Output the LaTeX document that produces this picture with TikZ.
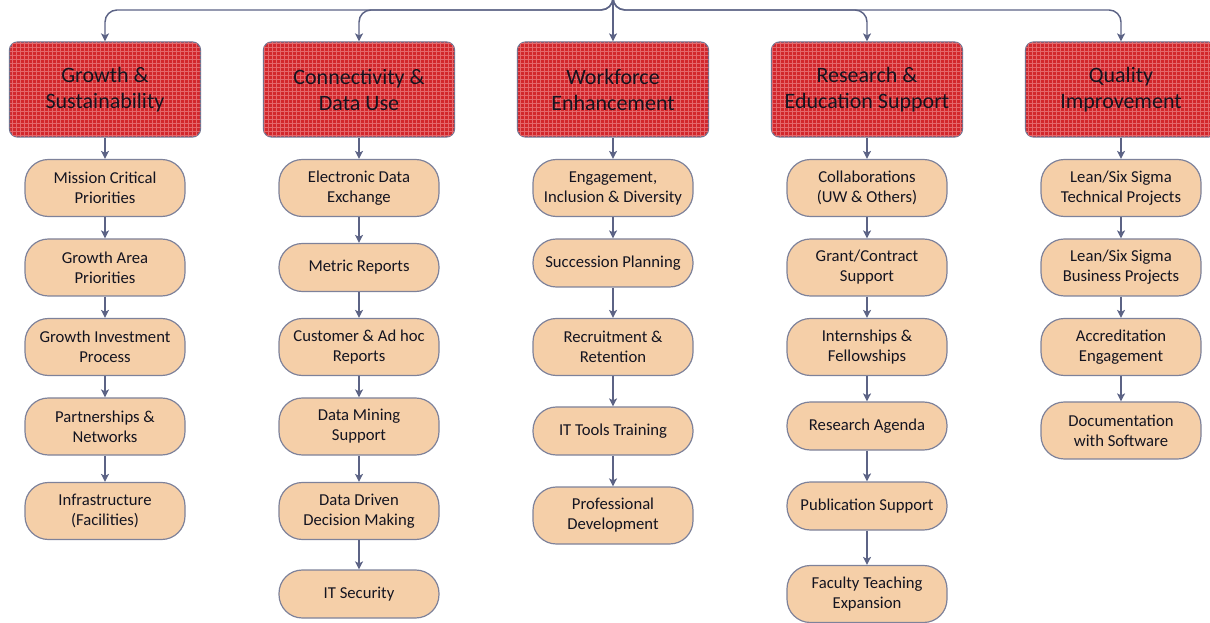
\documentclass[tikz,border=0pt]{standalone}
\usepackage{fontspec}
\setmainfont{Carlito}
\usetikzlibrary{arrows.meta,patterns}
\definecolor{hdrfill}{HTML}{D2272C}
\definecolor{hdrgrid}{HTML}{E4676B}
\definecolor{hdrline}{HTML}{6E7390}
\definecolor{subfill}{HTML}{F5CFA8}
\definecolor{subline}{HTML}{7E829A}
\definecolor{conncol}{HTML}{5C6385}
\definecolor{txt}{HTML}{141420}
\tikzset{
  hdr/.style={rectangle, rounded corners=6pt, draw=hdrline, line width=0.9pt,
    fill=hdrfill, postaction={pattern=grid, pattern color=hdrgrid},
    minimum width=143.25pt, minimum height=71.25pt, align=center, text=txt,
    font=\fontsize{16.5}{19.5}\selectfont, inner sep=0pt},
  subbox/.style={rectangle, rounded corners=17.5pt, draw=subline, line width=0.9pt,
    fill=subfill, minimum width=120pt, minimum height=42.75pt, align=center, text=txt,
    font=\fontsize{12.5}{15}\selectfont, inner sep=0pt},
  subone/.style={subbox, minimum height=36pt},
  conn/.style={draw=conncol, line width=1.1pt, -{Stealth[length=6pt,width=6pt,inset=1.5pt]}},
  topline/.style={draw=conncol, line width=1.1pt, rounded corners=9pt},
}
\begin{document}
\begin{tikzpicture}[x=0.75pt,y=-0.75pt]
\useasboundingbox (0,0) rectangle (1210,623);
% headers
\node[hdr] (h1) at (105,89.5) {Growth \&\\Sustainability};
\node[hdr] (h2) at (359,89.5) {Connectivity \&\\Data Use};
\node[hdr] (h3) at (613,89.5) {Workforce\\Enhancement};
\node[hdr] (h4) at (867,89.5) {Research \&\\Education Support};
\node[hdr] (h5) at (1121,89.5) {Quality\\Improvement};
% top connectors
\coordinate (top) at (613,0);
\coordinate (lvl) at (0,10);
\draw[topline, conn] (top) |- (h1.north |- lvl) -- (h1.north);
\draw[topline, conn] (top) |- (h2.north |- lvl) -- (h2.north);
\draw[conn] (top) -- (h3.north);
\draw[topline, conn] (top) |- (h4.north |- lvl) -- (h4.north);
\draw[topline, conn] (top) |- (h5.north |- lvl) -- (h5.north);
% column 1
\node[subbox] (a1) at (105,188) {Mission Critical\\Priorities};
\node[subbox] (a2) at (105,267.5) {Growth Area\\Priorities};
\node[subbox] (a3) at (105,347) {Growth Investment\\Process};
\node[subbox] (a4) at (105,426.5) {Partnerships \&\\Networks};
\node[subbox] (a5) at (105,511) {Infrastructure\\(Facilities)};
% column 2
\node[subbox] (b1) at (359,188) {Electronic Data\\Exchange};
\node[subone] (b2) at (359,267.5) {Metric Reports};
\node[subbox] (b3) at (359,347) {Customer \& Ad hoc\\Reports};
\node[subbox] (b4) at (359,426.5) {Data Mining\\Support};
\node[subbox] (b5) at (359,511) {Data Driven\\Decision Making};
\node[subone] (b6) at (359,594) {IT Security};
% column 3
\node[subbox] (c1) at (613,188) {Engagement,\\Inclusion \& Diversity};
\node[subone] (c2) at (613,263) {Succession Planning};
\node[subbox] (c3) at (613,347) {Recruitment \&\\Retention};
\node[subone] (c4) at (613,431) {IT Tools Training};
\node[subbox] (c5) at (613,515.5) {Professional\\Development};
% column 4
\node[subbox] (d1) at (867,188) {Collaborations\\(UW \& Others)};
\node[subbox] (d2) at (867,267.5) {Grant/Contract\\Support};
\node[subbox] (d3) at (867,347) {Internships \&\\Fellowships};
\node[subone] (d4) at (867,426) {Research Agenda};
\node[subone] (d5) at (867,506) {Publication Support};
\node[subbox] (d6) at (867,594) {Faculty Teaching\\Expansion};
% column 5
\node[subbox] (e1) at (1121,188) {Lean/Six Sigma\\Technical Projects};
\node[subbox] (e2) at (1121,267.5) {Lean/Six Sigma\\Business Projects};
\node[subbox] (e3) at (1121,347) {Accreditation\\Engagement};
\node[subbox] (e4) at (1121,430.5) {Documentation\\with Software};
% vertical connectors
\foreach \u/\v in {h1/a1,a1/a2,a2/a3,a3/a4,a4/a5,
                   h2/b1,b1/b2,b2/b3,b3/b4,b4/b5,b5/b6,
                   h3/c1,c1/c2,c2/c3,c3/c4,c4/c5,
                   h4/d1,d1/d2,d2/d3,d3/d4,d4/d5,d5/d6,
                   h5/e1,e1/e2,e2/e3,e3/e4}
  \draw[conn] (\u.south) -- (\v.north);
\end{tikzpicture}
\end{document}
